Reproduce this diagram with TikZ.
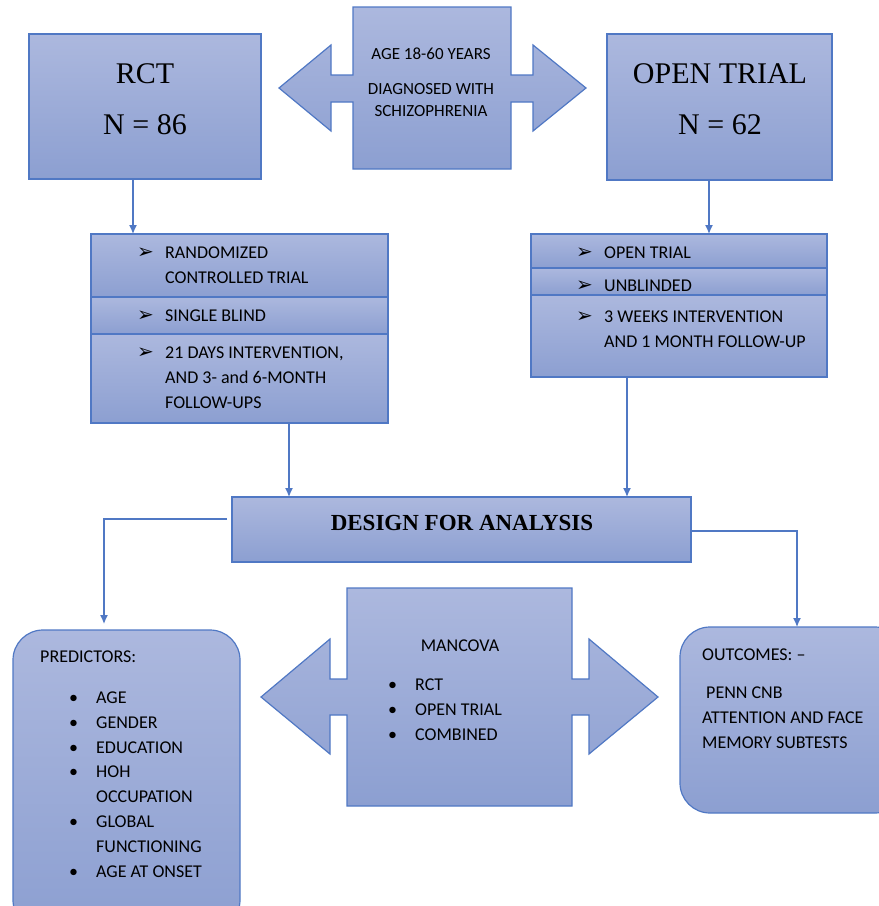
\documentclass[tikz,border=0pt]{standalone}
\usepackage{fontspec}
\setmainfont{Carlito}
\newfontfamily\timesfont{Liberation Serif}
\newfontfamily\dingfont{DejaVu Sans}
\usetikzlibrary{
  arrows.meta, % for arrow tips
  positioning}

\definecolor{boxtop}{RGB}{172,184,222}
\definecolor{boxbot}{RGB}{140,159,209}
\definecolor{boxedge}{RGB}{80,120,196}

\newcommand\arrowitem{\makebox[28pt][l]{\dingfont\fontsize{20}{20}\selectfont ➢}}
\newcommand\dotitem{\makebox[27pt][l]{\textbullet}}

\tikzset{
  blue box/.style={
    shape=rectangle, draw=boxedge, line width=1.2pt,
    top color=boxtop, bottom color=boxbot, inner sep=0pt, outer sep=0pt},
  round box/.style={blue box, rounded corners=30pt},
  blue shape/.style={
    draw=boxedge, line width=1.2pt, top color=boxtop, bottom color=boxbot},
  body/.style={font=\fontsize{18}{24.8}\selectfont, inner sep=0pt},
  title/.style={
    font=\timesfont\fontsize{30}{51}\selectfont, align=center, inner sep=0pt},
  link/.style={draw=boxedge, line width=1.3pt, -{Latex[length=9pt, width=8pt]}}
}

\begin{document}
\begin{tikzpicture}[x=1pt, y=-1pt]
\useasboundingbox (0,0) rectangle (879,906);

% samples
\node[blue box, minimum width=232pt, minimum height=145pt, anchor=north west]
  (rct) at (29,34) {};
\node[title] (rct-t) at (145,99.5) {RCT\\N = 86};
\node[blue box, minimum width=225pt, minimum height=146pt, anchor=north west]
  (open) at (607,34) {};
\node[title] (open-t) at (720,99) {OPEN TRIAL\\N = 62};

% eligibility, arrows both ways
\path[blue shape] (353,7) -- (511,7) -- (511,75) -- (533,75) -- (533,45)
  -- (586,88) -- (533,131) -- (533,102) -- (511,102) -- (511,169)
  -- (353,169) -- (353,102) -- (331,102) -- (331,131) -- (279,88)
  -- (331,45) -- (331,75) -- (353,75) -- cycle;
\node[body, font=\fontsize{17}{22.5}\selectfont, align=center, anchor=north]
  (elig) at (431,47.5) {AGE 18-60 YEARS\\[12.5pt]DIAGNOSED WITH\\SCHIZOPHRENIA};

% RCT design
\node[blue box, minimum width=297pt, minimum height=63pt, anchor=north west]
  (rct-a) at (91,234) {};
\node[blue box, minimum width=297pt, minimum height=37pt, below=0pt of rct-a]
  (rct-b) {};
\node[blue box, minimum width=297pt, minimum height=89pt, below=0pt of rct-b]
  (rct-c) {};
\node[body, anchor=north west] (rct-a-t)
  at ([xshift=46pt, yshift=-7pt]rct-a.north west) {%
  \begin{tabular}{@{}l@{}l@{}}
    \arrowitem & RANDOMIZED\\
               & CONTROLLED TRIAL
  \end{tabular}};
\node[body, anchor=north west] (rct-b-t)
  at ([xshift=46pt, yshift=-6.6pt]rct-b.north west) {%
  \begin{tabular}{@{}l@{}l@{}}
    \arrowitem & SINGLE BLIND
  \end{tabular}};
\node[body, anchor=north west] (rct-c-t)
  at ([xshift=46pt, yshift=-7pt]rct-c.north west) {%
  \begin{tabular}{@{}l@{}l@{}}
    \arrowitem & 21 DAYS INTERVENTION,\\
               & AND 3- and 6-MONTH\\
               & FOLLOW-UPS
  \end{tabular}};

% open trial design
\node[blue box, minimum width=296pt, minimum height=34pt, anchor=north west]
  (opt-a) at (531,234) {};
\node[blue box, minimum width=296pt, minimum height=27pt, below=0pt of opt-a]
  (opt-b) {};
\node[blue box, minimum width=296pt, minimum height=82pt, below=0pt of opt-b]
  (opt-c) {};
\node[body, anchor=north west] (opt-a-t)
  at ([xshift=45pt, yshift=-7pt]opt-a.north west) {%
  \begin{tabular}{@{}l@{}l@{}}
    \arrowitem & OPEN TRIAL
  \end{tabular}};
\node[body, anchor=north west] (opt-b-t)
  at ([xshift=45pt, yshift=-6.4pt]opt-b.north west) {%
  \begin{tabular}{@{}l@{}l@{}}
    \arrowitem & UNBLINDED
  \end{tabular}};
\node[body, anchor=north west] (opt-c-t)
  at ([xshift=45pt, yshift=-10.4pt]opt-c.north west) {%
  \begin{tabular}{@{}l@{}l@{}}
    \arrowitem & 3 WEEKS INTERVENTION\\
               & AND 1 MONTH FOLLOW-UP
  \end{tabular}};

% analysis
\node[blue box, minimum width=459pt, minimum height=65pt, anchor=north west]
  (design) at (232,497) {};
\node[font=\timesfont\bfseries\fontsize{23}{27}\selectfont, inner sep=0pt]
  (design-t) at (462,523) {DESIGN FOR ANALYSIS};

\path[blue shape] (347,588) -- (572,588) -- (572,679) -- (589,679) -- (589,639)
  -- (658,697) -- (589,754) -- (589,715) -- (572,715) -- (572,806)
  -- (347,806) -- (347,715) -- (330,715) -- (330,754) -- (261,697)
  -- (330,639) -- (330,679) -- (347,679) -- cycle;
\node[body] (manc-t) at (460,646) {MANCOVA};
\node[body, anchor=north west] (manc-l) at (388,673) {%
  \begin{tabular}{@{}l@{}l@{}}
    \dotitem & RCT\\
    \dotitem & OPEN TRIAL\\
    \dotitem & COMBINED
  \end{tabular}};

\node[round box, minimum width=227pt, minimum height=300pt, anchor=north west]
  (pred) at (13,630) {};
\node[body, anchor=north west] (pred-h) at (40,651) {PREDICTORS:};
\node[body, anchor=north west] (pred-l) at (69,686) {%
  \begin{tabular}{@{}l@{}l@{}}
    \dotitem & AGE\\
    \dotitem & GENDER\\
    \dotitem & EDUCATION\\
    \dotitem & HOH\\
             & OCCUPATION\\
    \dotitem & GLOBAL\\
             & FUNCTIONING\\
    \dotitem & AGE AT ONSET
  \end{tabular}};

\node[round box, minimum width=225pt, minimum height=186pt, anchor=north west]
  (outc) at (680,627) {};
\node[body, align=left, anchor=north west] (outc-t) at (702,648.5) {%
  OUTCOMES: –\\[13.5pt]\hspace*{4pt}PENN CNB\\ATTENTION AND FACE\\
  MEMORY SUBTESTS};

% connectors
\draw[link] ([xshift=-12pt]rct.south) -- ([xshift=-12pt]rct.south |- rct-a.north);
\draw[link] ([xshift=-10.5pt]open.south) -- ([xshift=-10.5pt]open.south |- opt-a.north);
\draw[link] ([xshift=49.5pt]rct-c.south) -- ([xshift=49.5pt]rct-c.south |- design.north);
\draw[link] ([xshift=-52pt]opt-c.south) -- ([xshift=-52pt]opt-c.south |- design.north);
\draw[link, shorten <=5pt, shorten >=6pt]
  ([yshift=10.5pt]design.west) -| ([xshift=-22.5pt]pred.north);
\draw[link] ([yshift=-1.5pt]design.east) -| ([xshift=4.5pt]outc.north);
\end{tikzpicture}
\end{document}
